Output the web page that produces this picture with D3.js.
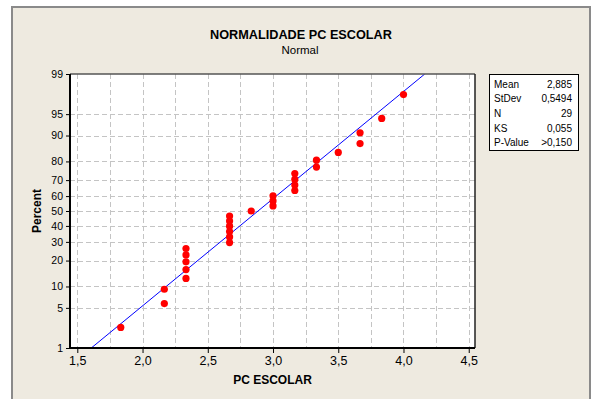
<!DOCTYPE html>
<html>
<head>
<meta charset="utf-8">
<script src="https://cdn.jsdelivr.net/npm/d3@7"></script>
<style>
  html, body { margin: 0; padding: 0; background: #ffffff; }
  svg { display: block; }
  text { font-family: "Liberation Sans", Arial, sans-serif; fill: #000; }
</style>
</head>
<body>
<svg id="chart" width="595" height="399"></svg>
<script>
// ---- data ----
const pcEscolar = [1.833, 2.167, 2.167, 2.333, 2.333, 2.333, 2.333, 2.333,
  2.667, 2.667, 2.667, 2.667, 2.667, 2.667, 2.833, 3.0, 3.0, 3.0,
  3.167, 3.167, 3.167, 3.167, 3.333, 3.333, 3.5, 3.667, 3.667, 3.833, 4.0];
const percentPos = [2.4, 5.8, 9.2, 12.6, 16.0, 19.4, 22.8, 26.2, 29.6, 33.0,
  36.4, 39.8, 43.2, 46.6, 50.0, 53.4, 56.8, 60.2, 63.6, 67.0, 70.4, 73.8,
  77.2, 80.6, 84.0, 87.4, 90.8, 94.2, 97.6];
const yTickPercents = [1, 5, 10, 20, 30, 40, 50, 60, 70, 80, 90, 95, 99];
const xTickValues = [1.5, 2.0, 2.5, 3.0, 3.5, 4.0, 4.5];
const xGridValues = [1.5, 1.75, 2.0, 2.25, 2.5, 2.75, 3.0, 3.25, 3.5, 3.75, 4.0, 4.25, 4.5];
const statLabels = ["Mean", "StDev", "N", "KS", "P-Value"];
const statValues = ["2,885", "0,5494", "29", "0,055", ">0,150"];
const fitMean = 2.885, fitStDev = 0.5494;
const titleText = "NORMALIDADE PC ESCOLAR";
const subtitleText = "Normal";
const xLabel = "PC ESCOLAR";
const yLabel = "Percent";

// inverse standard normal CDF (Acklam)
function probit(p) {
  const a = [-3.969683028665376e+01, 2.209460984245205e+02, -2.759285104469687e+02, 1.383577518672690e+02, -3.066479806614716e+01, 2.506628277459239e+00];
  const b = [-5.447609879822406e+01, 1.615858368580409e+02, -1.556989798598866e+02, 6.680131188771972e+01, -1.328068155288572e+01];
  const c = [-7.784894002430293e-03, -3.223964580411365e-01, -2.400758277161838e+00, -2.549732539343734e+00, 4.374664141464968e+00, 2.938163982698783e+00];
  const d = [7.784695709041462e-03, 3.224671290700398e-01, 2.445134137142996e+00, 3.754408661907416e+00];
  const pl = 0.02425, ph = 1 - pl;
  let q, r;
  if (p < pl) {
    q = Math.sqrt(-2 * Math.log(p));
    return (((((c[0]*q+c[1])*q+c[2])*q+c[3])*q+c[4])*q+c[5]) / ((((d[0]*q+d[1])*q+d[2])*q+d[3])*q+1);
  } else if (p <= ph) {
    q = p - 0.5; r = q * q;
    return (((((a[0]*r+a[1])*r+a[2])*r+a[3])*r+a[4])*r+a[5])*q / (((((b[0]*r+b[1])*r+b[2])*r+b[3])*r+b[4])*r+1);
  } else {
    q = Math.sqrt(-2 * Math.log(1 - p));
    return -(((((c[0]*q+c[1])*q+c[2])*q+c[3])*q+c[4])*q+c[5]) / ((((d[0]*q+d[1])*q+d[2])*q+d[3])*q+1);
  }
}
const zOf = pct => probit(pct / 100);

// ---- layout ----
const svg = d3.select("#chart");
const plot = { left: 70, right: 475, top: 74, bottom: 348 };

// outer panel
svg.append("rect").attr("x", 12).attr("y", 7).attr("width", 578).attr("height", 400)
  .attr("fill", "#eeeae0").attr("stroke", "#8a8a8a").attr("stroke-width", 2);

const x = d3.scaleLinear().domain([1.444, 4.548]).range([plot.left, plot.right]);
const yz = d3.scaleLinear().domain([zOf(1), zOf(99)]).range([plot.bottom, plot.top]);
const y = pct => yz(zOf(pct));

// plot background
svg.append("rect").attr("x", plot.left).attr("y", plot.top)
  .attr("width", plot.right - plot.left).attr("height", plot.bottom - plot.top)
  .attr("fill", "#ffffff");

// grid
const grid = svg.append("g").attr("stroke", "#c4c4c4").attr("stroke-width", 1)
  .attr("stroke-dasharray", "5,3").attr("shape-rendering", "crispEdges");
grid.selectAll("line.v").data(xGridValues).join("line")
  .attr("x1", d => Math.round(x(d)) + 0.5).attr("x2", d => Math.round(x(d)) + 0.5)
  .attr("y1", plot.top).attr("y2", plot.bottom);
grid.selectAll("line.h").data(yTickPercents.slice(1, -1)).join("line")
  .attr("y1", d => Math.round(y(d)) + 0.5).attr("y2", d => Math.round(y(d)) + 0.5)
  .attr("x1", plot.left).attr("x2", plot.right);

// clip for fit line
svg.append("clipPath").attr("id", "clip").append("rect")
  .attr("x", plot.left).attr("y", plot.top)
  .attr("width", plot.right - plot.left).attr("height", plot.bottom - plot.top);

// fitted line
const fitPts = [1, 99].map(p => [fitMean + fitStDev * zOf(p), p]);
svg.append("path")
  .attr("clip-path", "url(#clip)")
  .attr("d", d3.line().x(d => x(d[0])).y(d => y(d[1]))(fitPts))
  .attr("stroke", "#0000ff").attr("stroke-width", 1).attr("fill", "none");

// points
svg.append("g").selectAll("circle").data(pcEscolar).join("circle")
  .attr("cx", d => x(d)).attr("cy", (d, i) => y(percentPos[i]))
  .attr("r", 3.6).attr("fill", "#ff0000");

// frame
svg.append("line").attr("x1", plot.left).attr("x2", plot.right).attr("y1", plot.top).attr("y2", plot.top)
  .attr("stroke", "#555", ).attr("stroke-width", 1.5);
svg.append("line").attr("x1", plot.right).attr("x2", plot.right).attr("y1", plot.top).attr("y2", plot.bottom)
  .attr("stroke", "#222").attr("stroke-width", 1.5);

// x axis
const xAxis = d3.axisBottom(x).tickValues(xTickValues).tickSize(5).tickPadding(3)
  .tickFormat(d => d3.format(".1f")(d).replace(".", ","));
const gx = svg.append("g").attr("transform", `translate(0,${plot.bottom})`).call(xAxis);
gx.select(".domain").attr("stroke", "#000").attr("stroke-width", 2)
  .attr("d", `M${plot.left},0H${plot.right}`);
gx.selectAll(".tick line").attr("stroke", "#000");
gx.selectAll(".tick text").style("font-family", "'Liberation Sans', Arial, sans-serif")
  .style("font-size", "12.5px").attr("fill", "#000");

// y axis
const yAxis = d3.axisLeft(yz).tickValues(yTickPercents.map(zOf)).tickSize(4).tickPadding(3)
  .tickFormat((d, i) => String(yTickPercents[i]));
const gy = svg.append("g").attr("transform", `translate(${plot.left},0)`).call(yAxis);
gy.select(".domain").attr("stroke", "#000").attr("stroke-width", 2)
  .attr("d", `M0,${plot.top}V${plot.bottom}`);
gy.selectAll(".tick line").attr("stroke", "#000");
gy.selectAll(".tick text").style("font-family", "'Liberation Sans', Arial, sans-serif")
  .style("font-size", "10.5px").attr("fill", "#000");

// titles
svg.append("text").attr("x", 301).attr("y", 39).attr("text-anchor", "middle")
  .style("font-size", "12.7px").style("font-weight", "bold").text(titleText);
svg.append("text").attr("x", 300).attr("y", 54).attr("text-anchor", "middle")
  .style("font-size", "11.5px").text(subtitleText);
svg.append("text").attr("x", (plot.left + plot.right) / 2).attr("y", 383.5).attr("text-anchor", "middle")
  .style("font-size", "12px").style("font-weight", "bold").text(xLabel);
svg.append("text").attr("transform", `translate(41,${(plot.top + plot.bottom) / 2}) rotate(-90)`)
  .attr("text-anchor", "middle").style("font-size", "12px").style("font-weight", "bold").text(yLabel);

// stats box
const box = { x: 489, y: 74, w: 89, h: 76 };
svg.append("rect").attr("x", box.x + 0.5).attr("y", box.y + 0.5).attr("width", box.w).attr("height", box.h)
  .attr("fill", "#ffffff").attr("stroke", "#000").attr("stroke-width", 1);
const rows = svg.append("g");
statLabels.forEach((lab, i) => {
  const yy = 87.5 + i * 14.7;
  rows.append("text").attr("x", 494).attr("y", yy).style("font-size", "10px").text(lab);
  rows.append("text").attr("x", 572).attr("y", yy).attr("text-anchor", "end").style("font-size", "10px").text(statValues[i]);
});
</script>
</body>
</html>
